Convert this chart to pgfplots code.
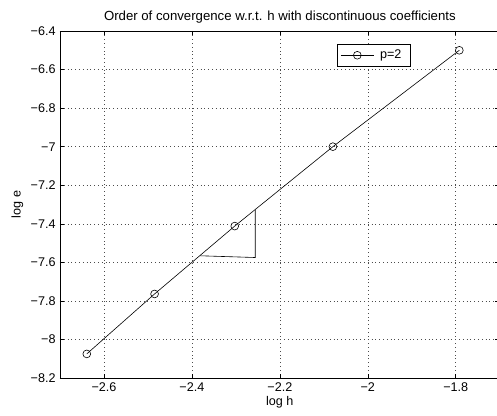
\documentclass[border=0pt]{standalone}
\usepackage{pgfplots}
\pgfplotsset{compat=1.18}
\usepackage{fontspec}
\setmainfont{Liberation Sans}
\begin{document}
\fontsize{12.6}{14}\selectfont
\begin{tikzpicture}
\begin{axis}[
  scale only axis,
  width=439.7pt, height=347pt,
  xmin=-2.7, xmax=-1.7, ymin=-8.2, ymax=-6.4,
  xtick={-2.6,-2.4,-2.2,-2,-1.8},
  xticklabels={−2.6,−2.4,−2.2,−2,−1.8},
  ytick={-8.2,-8,-7.8,-7.6,-7.4,-7.2,-7,-6.8,-6.6,-6.4},
  yticklabels={−8.2,−8,−7.8,−7.6,−7.4,−7.2,−7,−6.8,−6.6,−6.4},
  tick align=inside,
  major tick length=4.5pt,
  tick style={black, line width=0.5pt},
  axis line style={black, line width=0.8pt},
  grid=major,
  major grid style={black!70, line width=0.5pt, dash pattern=on 0.6pt off 3.2pt},
  title={Order of convergence w.r.t. h with discontinuous coefficients},
  title style={yshift=-3pt, font=\fontsize{13.2}{15}\selectfont},
  xlabel={log h},
  ylabel={log e},
  xlabel style={yshift=4pt},
  ylabel style={yshift=-1pt},
  legend style={at={(rel axis cs:0.798,0.9625)}, anchor=north east, draw=black, line width=0.8pt, inner xsep=3pt, inner ysep=3.5pt, font=\fontsize{12.6}{14}\selectfont, nodes={inner xsep=6pt}},
  legend cell align=left,
  legend image code/.code={\draw[mark repeat=2,mark phase=2,#1] plot coordinates {(0pt,0pt) (16.5pt,0pt) (33pt,0pt)};},
]
\addplot[black, line width=0.6pt, mark=o, mark size=3.9pt, mark options={line width=0.6pt}] coordinates {
  (-2.6391,-8.075)
  (-2.4849,-7.764)
  (-2.3026,-7.412)
  (-2.0794,-7.000)
  (-1.7918,-6.500)
};
\addlegendentry{p=2}
\addplot[black, line width=0.6pt, forget plot] coordinates {
  (-2.381,-7.566) (-2.256,-7.575) (-2.256,-7.326)
};
\end{axis}
\pgfresetboundingbox
\useasboundingbox (-60pt,-37pt) rectangle (437pt,378pt);
\end{tikzpicture}
\end{document}
